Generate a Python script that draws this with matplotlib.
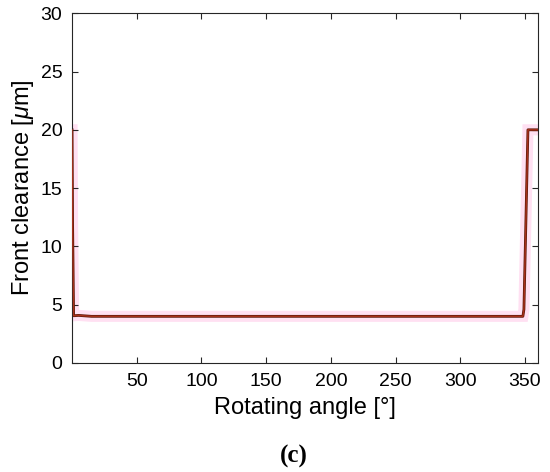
import matplotlib
matplotlib.use('Agg')
from matplotlib import pyplot as plt

# front clearance vs rotating angle
angle = [0, 0.4, 1.2, 5, 15, 348.4, 349.2, 352.3, 360]
clearance = [20, 12, 4.05, 4.08, 4.0, 4.0, 4.6, 20.0, 20.0]

xticks = [50, 100, 150, 200, 250, 300, 350]
yticks = [0, 5, 10, 15, 20, 25, 30]

plt.rcParams['font.family'] = ['Liberation Sans', 'DejaVu Sans']
plt.rcParams['mathtext.fontset'] = 'custom'
plt.rcParams['mathtext.it'] = 'Liberation Sans:italic'
plt.rcParams['mathtext.rm'] = 'Liberation Sans'

fig = plt.figure(figsize=(5.5, 4.72), dpi=100)
ax = fig.add_axes([0.131, 0.231, 0.847, 0.741])

# light pink band behind the curve
ax.plot(angle, clearance, color='#ffe0f2', lw=8, solid_joinstyle='miter', zorder=1)
ax.plot(angle, clearance, color='#5a1a0a', lw=2.0, zorder=2)
ax.plot(angle, clearance, color='#a8301a', lw=1.0, zorder=3)

ax.set_xlim(0, 360)
ax.set_ylim(0, 30)
ax.set_xticks(xticks)
ax.set_yticks(yticks)
ax.tick_params(direction='in', top=True, right=True, labelsize=14, length=4,
               width=0.8, colors='#262626', labelcolor='black', pad=7)
for s in ax.spines.values():
    s.set_color('#262626')
    s.set_linewidth(0.8)

ax.set_xlabel('Rotating angle [°]', fontsize=17, labelpad=5)
ax.set_ylabel(r'Front clearance [$\mu$m]', fontsize=17, labelpad=3)

fig.text(0.535, 0.032, '(c)', fontsize=18, fontweight='bold',
         family='Liberation Serif', ha='center', va='center')

plt.savefig('out.png', dpi=100)
